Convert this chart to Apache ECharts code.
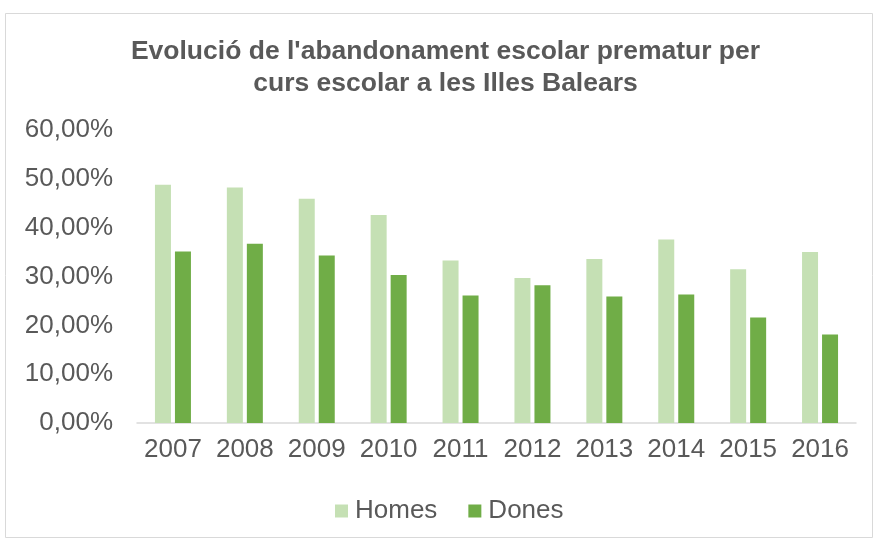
<!DOCTYPE html>
<html>
<head>
<meta charset="utf-8">
<script src="https://cdn.jsdelivr.net/npm/echarts@6/dist/echarts.min.js"></script>
<style>html,body{margin:0;padding:0;background:#fff}#c{width:875px;height:540px}</style>
</head>
<body>
<div id="c"></div>
<script>
const categories = ['2007','2008','2009','2010','2011','2012','2013','2014','2015','2016'];
const homes = [48.8, 48.2, 45.9, 42.6, 33.3, 29.7, 33.6, 37.6, 31.5, 35.0];
const dones = [35.1, 36.7, 34.3, 30.3, 26.1, 28.2, 25.9, 26.3, 21.6, 18.1];
const seriesNames = ['Homes', 'Dones'];
const titleText = "Evolució de l'abandonament escolar prematur per\ncurs escolar a les Illes Balears";

const chart = echarts.init(document.getElementById('c'), null, {renderer: 'canvas'});
const font = '"Liberation Sans", Arial, sans-serif';
chart.setOption({
  animation: false,
  backgroundColor: '#fff',
  graphic: [{
    type: 'rect', shape: {x: 5.5, y: 13.5, width: 867, height: 524},
    style: {fill: 'none', stroke: '#d9d9d9', lineWidth: 1}, silent: true
  }],
  title: {
    text: titleText, left: 440.5, top: 31, textAlign: 'center',
    textStyle: {fontFamily: font, fontSize: 26.5, fontWeight: 'bold', color: '#595959', lineHeight: 32}
  },
  legend: {
    data: seriesNames, top: 493, left: 330, itemWidth: 13, itemHeight: 13, itemGap: 31,
    icon: 'rect',
    textStyle: {fontFamily: font, fontSize: 26, color: '#595959', padding: [0,0,0,2]}
  },
  grid: {left: 137, right: 19, top: 130, bottom: 117, containLabel: false},
  xAxis: {
    type: 'category', data: categories,
    axisLine: {lineStyle: {color: '#d9d9d9', width: 1.5}},
    axisTick: {show: false},
    axisLabel: {fontFamily: font, fontSize: 26, color: '#595959', margin: 14, interval: 0}
  },
  yAxis: {
    type: 'value', min: 0, max: 60, interval: 10,
    axisLine: {show: false}, axisTick: {show: false}, splitLine: {show: false},
    axisLabel: {fontFamily: font, fontSize: 26, color: '#595959', margin: 24,
      formatter: v => v.toFixed(2).replace('.', ',') + '%'}
  },
  series: [
    {name: seriesNames[0], type: 'bar', data: homes, barWidth: 16, barGap: '25%',
      itemStyle: {color: '#c5e0b4'}},
    {name: seriesNames[1], type: 'bar', data: dones, barWidth: 16, barGap: '25%',
      itemStyle: {color: '#70ad47'}}
  ]
});
</script>
</body>
</html>
